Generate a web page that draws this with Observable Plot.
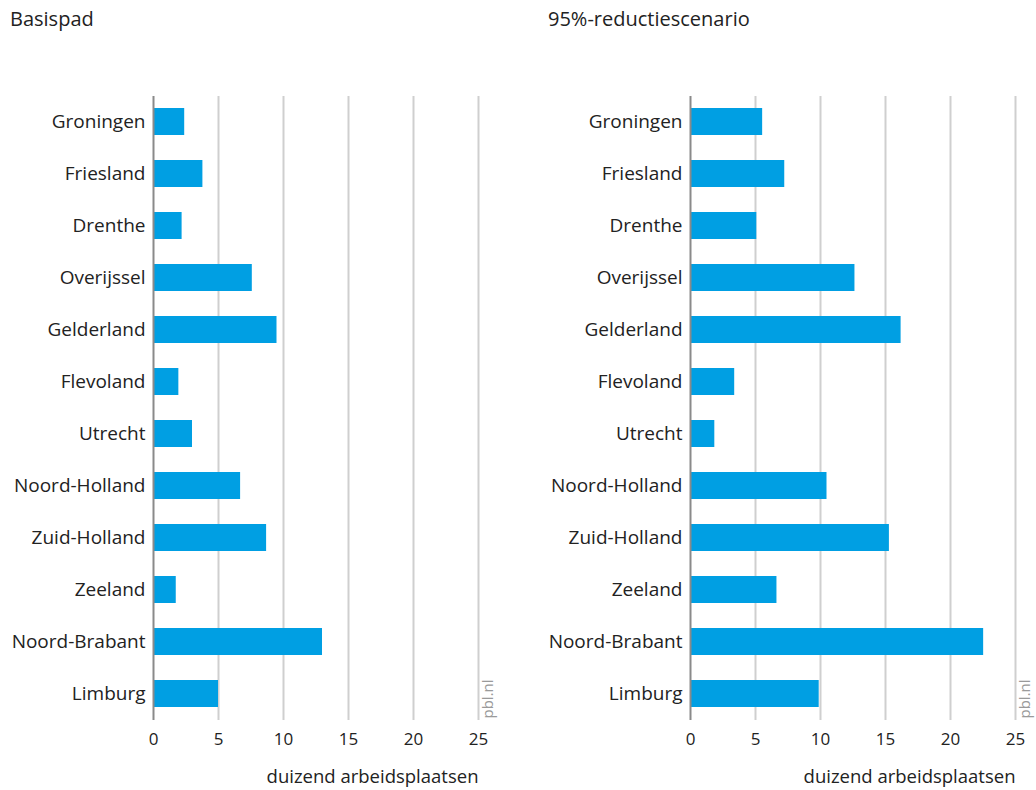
<!DOCTYPE html>
<html>
<head>
<meta charset="utf-8">
<script src="https://cdn.jsdelivr.net/npm/d3@7"></script>
<script src="https://cdn.jsdelivr.net/npm/@observablehq/plot@0.6"></script>
<style>
  html, body { margin: 0; padding: 0; background: #fff; }
  body { width: 1036px; height: 790px; position: relative; overflow: hidden; font-family: "Open Sans", sans-serif; }
  .title { position: absolute; top: 5px; font-size: 20px; color: #222; }
  .panel { position: absolute; top: 56px; }
</style>
</head>
<body>
<div class="title" style="left:10px">Basispad</div>
<div class="title" style="left:548px">95%-reductiescenario</div>
<div class="panel" id="left" style="left:0px"></div>
<div class="panel" id="right" style="left:538px"></div>
<script>
const provinces = ["Groningen", "Friesland", "Drenthe", "Overijssel", "Gelderland", "Flevoland", "Utrecht", "Noord-Holland", "Zuid-Holland", "Zeeland", "Noord-Brabant", "Limburg"];
const basispad = [2.4, 3.8, 2.2, 7.6, 9.5, 1.95, 3.0, 6.7, 8.7, 1.75, 13.0, 5.0];
const reductie95 = [5.55, 7.25, 5.1, 12.65, 16.2, 3.4, 1.87, 10.5, 15.3, 6.65, 22.55, 9.9];
const xTicks = [0, 5, 10, 15, 20, 25];
const xLabel = "duizend arbeidsplaatsen";
const barColor = "#009fe3";

function panel(values, width, marginLeft, marginRight) {
  const data = provinces.map((p, i) => ({province: p, value: values[i]}));
  return Plot.plot({
    width,
    height: 730,
    marginTop: 40,
    marginBottom: 66,
    marginLeft,
    marginRight,
    style: {fontFamily: "Open Sans, sans-serif", fontSize: "16px", color: "#222", background: "transparent", overflow: "visible"},
    x: {domain: [0, 25], ticks: xTicks},
    y: {domain: provinces, paddingInner: 0.48, paddingOuter: 0.24},
    marks: [
      Plot.ruleX(xTicks.filter(d => d > 0), {stroke: "#cfcfcf", strokeWidth: 2}),
      Plot.barX(data, {y: "province", x: "value", fill: barColor}),
      Plot.ruleX([0], {stroke: "#8a8a8a", strokeWidth: 2}),
      Plot.axisY({tickSize: 0, tickPadding: 8, label: null, fontSize: 19}),
      Plot.axisX({ticks: xTicks, tickSize: 0, tickPadding: 12, fontSize: 17, label: null}),
      Plot.text([xLabel], {frameAnchor: "bottom-right", textAnchor: "end", lineAnchor: "middle", dy: 57, fontSize: 18.5, fill: "#222"}),
      Plot.text(["pbl.nl"], {frameAnchor: "bottom-right", rotate: -90, dx: 14, dy: -2, textAnchor: "start", fill: "#9a9a9a", fontSize: 15})
    ]
  });
}

document.getElementById("left").append(panel(basispad, 538, 153, 60));
document.getElementById("right").append(panel(reductie95, 497, 152, 20));
</script>
</body>
</html>
